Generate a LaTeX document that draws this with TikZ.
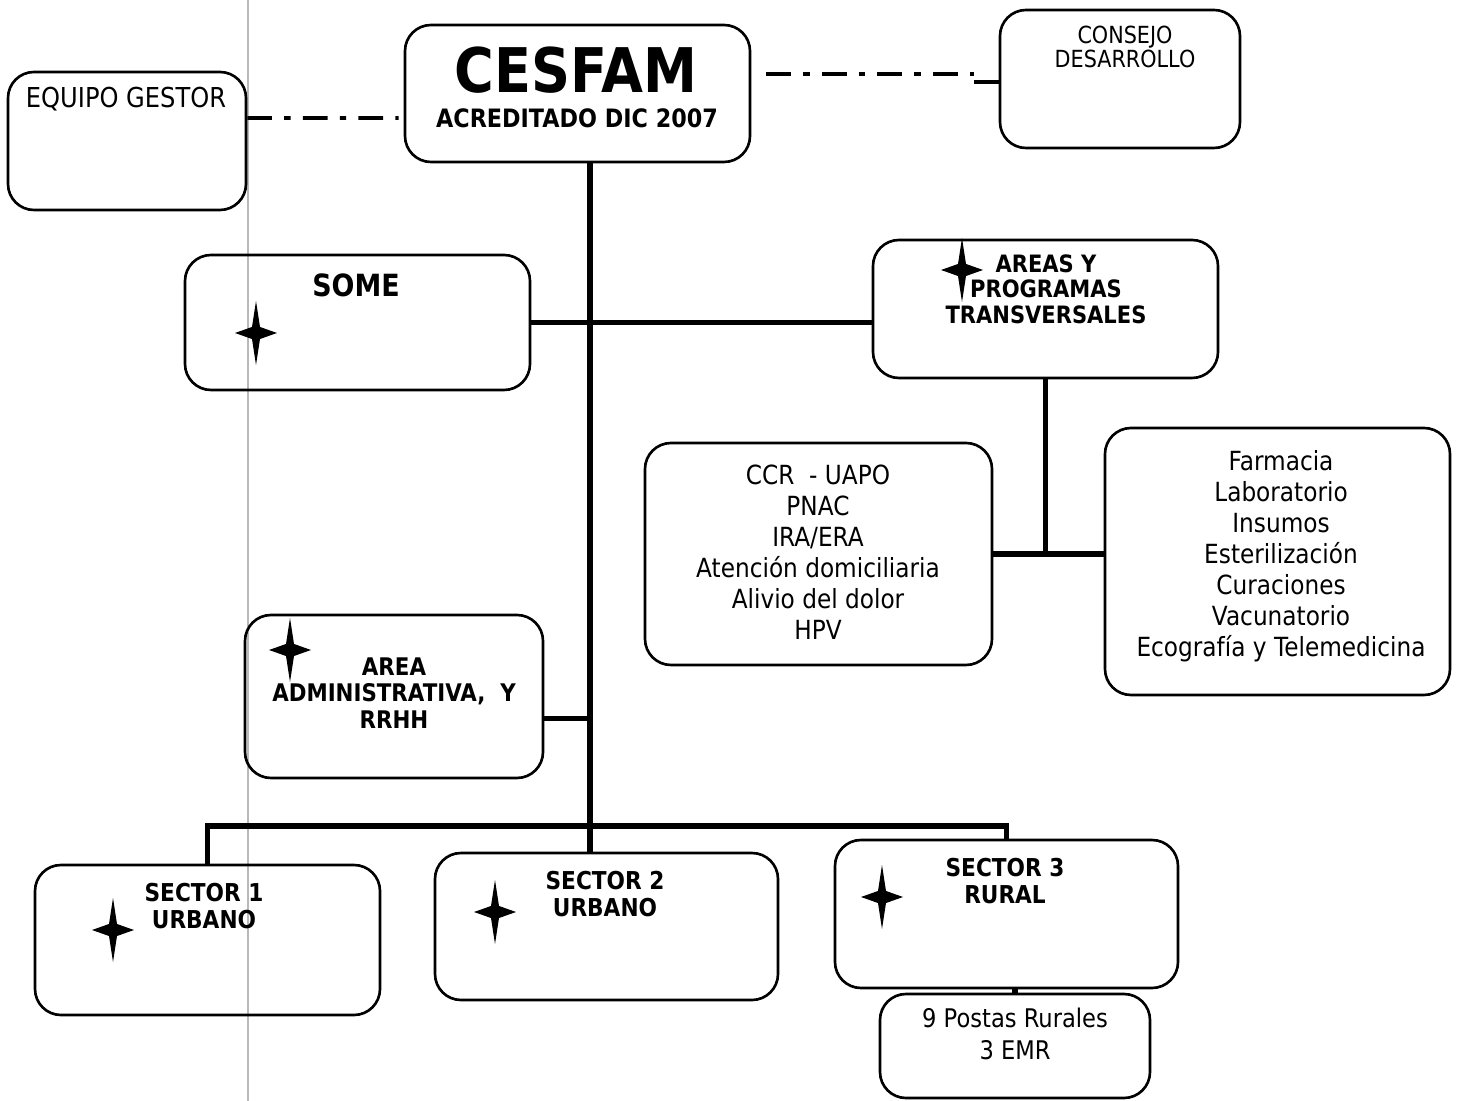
\documentclass[tikz,border=0pt]{standalone}
\usepackage{fontspec}
\setmainfont{DejaVu Sans}[FakeStretch=0.88]
\usetikzlibrary{fit}
\tikzset{
  box/.style={draw=black, line width=0.75pt, rounded corners=0.26cm, inner sep=0pt},
  conn/.style={draw=black, line width=1.5pt},
  dashdotline/.style={draw=black, line width=1.1pt, dash pattern=on 7pt off 3.5pt on 1.8pt off 3.5pt},
  lbl/.style={inner sep=0pt, align=center, text=black},
  bl/.style={lbl, font=\bfseries\fontsize{6.9}{7.4}\selectfont},
  nl/.style={lbl, font=\fontsize{7.5}{8.8}\selectfont},
}
\newcommand{\fourstar}[2]{%
  \fill[black] (#1,#2) ++(0,-32) -- ++(4,26) -- ++(17,6) -- ++(-17,6) -- ++(-4,26)
     -- ++(-4,-26) -- ++(-17,-6) -- ++(17,-6) -- cycle;
  \fill[black] (#1,#2) ellipse (11 and 6);
}
\begin{document}
\begin{tikzpicture}[x=0.01cm, y=-0.01cm]
\useasboundingbox[fill=white] (0,0) rectangle (1458,1101);
% faint scan line
\draw[gray!55, line width=0.35pt] (248,0) -- (248,1101);

% boxes
\node[box, fit={(8,72) (246,210)}] (gestor) {};
\node[box, fit={(405,25) (750,162)}] (cesfam) {};
\node[box, fit={(1000,10) (1240,148)}] (consejo) {};
\node[box, fit={(185,255) (530,390)}] (some) {};
\node[box, fit={(873,240) (1218,378)}] (areas) {};
\node[box, fit={(645,443) (992,665)}] (ccr) {};
\node[box, fit={(1105,428) (1450,695)}] (farm) {};
\node[box, fit={(245,615) (543,778)}] (admin) {};
\node[box, fit={(35,865) (380,1015)}] (s1) {};
\node[box, fit={(435,853) (778,1000)}] (s2) {};
\node[box, fit={(835,840) (1178,988)}] (s3) {};
\node[box, fit={(880,994) (1150,1098)}] (postas) {};

% texts
\node[lbl, font=\fontsize{7.8}{9}\selectfont] (tgestor) at (126,99) {EQUIPO GESTOR};
\node[lbl, font=\bfseries\fontsize{17.5}{18}\selectfont] (tcesfam) at (576,70) {CESFAM};
\node[lbl, font=\bfseries\fontsize{7.2}{8}\selectfont] (tacred) at (577,118) {ACREDITADO DIC 2007};
\node[lbl, font=\fontsize{6.7}{7}\selectfont] (tconsejo) at (1125,47) {CONSEJO\\DESARROLLO};
\node[lbl, font=\bfseries\fontsize{8.7}{9}\selectfont] (tsome) at (356,285) {SOME};
\node[bl, font=\bfseries\fontsize{6.8}{7.2}\selectfont] (tareas) at (1046,289) {AREAS Y\\PROGRAMAS\\TRANSVERSALES};
\node[nl] (tccr) at (818,552) {CCR \ - UAPO\\PNAC\\IRA/ERA\\Atención domiciliaria\\Alivio del dolor\\HPV};
\node[nl] (tfarm) at (1281,556) {Farmacia\\Laboratorio\\Insumos\\Esterilización\\Curaciones\\Vacunatorio\\Ecografía y Telemedicina};
\node[bl, font=\bfseries\fontsize{6.9}{7.5}\selectfont] (tadmin) at (394,693) {AREA\\ADMINISTRATIVA, \ Y\\RRHH};
\node[bl, font=\bfseries\fontsize{7}{7.9}\selectfont] (ts1) at (204,906) {SECTOR 1\\URBANO};
\node[bl, font=\bfseries\fontsize{7}{7.9}\selectfont] (ts2) at (605,894) {SECTOR 2\\URBANO};
\node[bl, font=\bfseries\fontsize{7}{7.9}\selectfont] (ts3) at (1005,881) {SECTOR 3\\RURAL};
\node[lbl, font=\fontsize{7.3}{9}\selectfont] (tpostas) at (1015,1034) {9 Postas Rurales\\3 EMR};

% stars
\fourstar{256}{333}
\fourstar{962}{270}
\fourstar{290}{650}
\fourstar{113}{930}
\fourstar{495}{912}
\fourstar{882}{897}

% dashed relations
\draw[dashdotline] ([yshift=0.23cm]gestor.east) -- ([yshift=-0.245cm,xshift=-0.05cm]cesfam.west);
\draw[dashdotline] ([xshift=0.15cm,yshift=0.05cm]cesfam.east |- consejo.west) -- ([xshift=-0.25cm,yshift=0.05cm]consejo.west);
\draw[line width=1.1pt] ([xshift=-0.25cm,yshift=-0.03cm]consejo.west) -- ([yshift=-0.03cm]consejo.west);

% trunk and branches
\coordinate (trunktop) at ([xshift=0.125cm]cesfam.south);
\coordinate (busy) at (0,826);
\draw[conn] (trunktop) -- (trunktop |- s2.north);
\draw[conn] (some.east) -- (areas.west |- some.east);
\draw[conn] (areas.south) -- (areas.south |- ccr.east);
\draw[conn] (ccr.east) -- (ccr.east -| farm.west);
\draw[conn] ([yshift=-0.22cm]admin.east) -- ([yshift=-0.22cm]admin.east -| trunktop);
\draw[conn] (s1.north) -- (s1.north |- busy) -- (s3.north |- busy) -- (s3.north);
\draw[conn] (postas.north |- s3.south) -- (postas.north);
\end{tikzpicture}
\end{document}
